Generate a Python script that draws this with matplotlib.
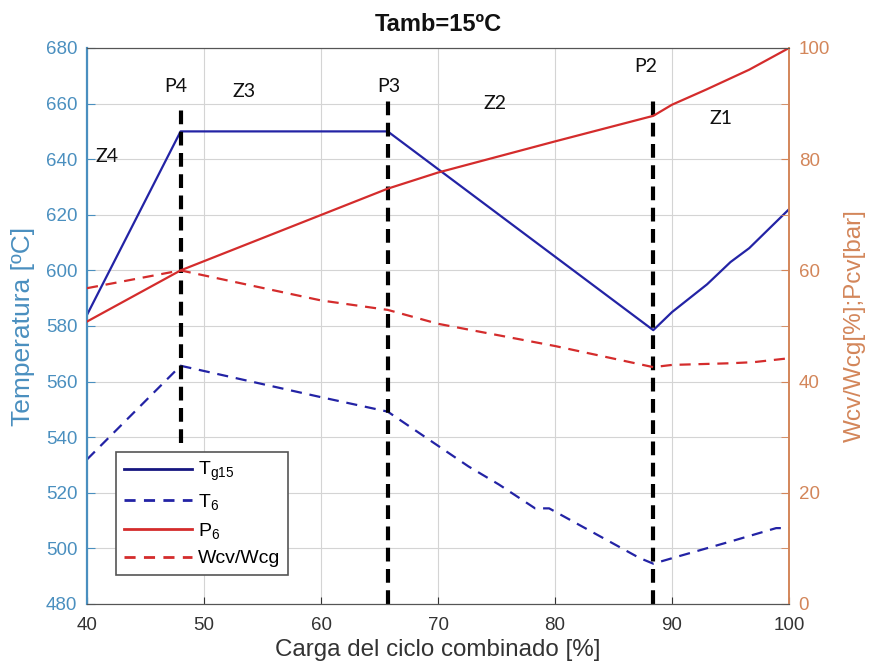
import matplotlib
matplotlib.use("Agg")
import matplotlib.pyplot as plt
from matplotlib.lines import Line2D

plt.rcParams['font.family'] = ['Liberation Sans', 'DejaVu Sans']
plt.rcParams['mathtext.fontset'] = 'custom'
plt.rcParams['mathtext.rm'] = 'Liberation Sans'
plt.rcParams['mathtext.it'] = 'Liberation Sans'

# load of the combined cycle [%]
x_tg = [40, 48, 65.7, 88.4, 90, 93, 95, 96.6, 100]
tg15 = [584, 650, 650, 578.5, 585, 595, 603, 608, 622]

x_t6 = [40, 48, 60, 65.7, 72.6, 75.2, 78.3, 79.5, 87.2, 88.4, 90.6, 95.1, 98.9, 100]
t6 = [532, 565.7, 554.4, 549.2, 529.5, 523, 514.4, 514.4, 496.6, 494.5, 497.2, 502.6, 507.3, 507.3]

x_p6 = [40, 48, 65.7, 70, 80, 88.4, 90, 92.9, 96.6, 100]
p6 = [50.8, 60, 74.7, 77.6, 83.2, 87.8, 89.8, 92.5, 96.1, 100]

x_w = [40, 48, 60, 65.7, 70, 80, 88.4, 90, 95, 97, 100]
wcv = [56.8, 60, 54.6, 52.9, 50.4, 46.4, 42.6, 43.0, 43.3, 43.5, 44.2]

# operating points and zones
p_names = ['P4', 'P3', 'P2']
p_x = [48, 65.7, 88.4]
p_lo = [538, 480, 480]
p_hi = [660, 661, 663]
p_lab_x = [47.6, 65.8, 87.75]
p_lab_y = [666, 666, 673.3]

z_names = ['Z4', 'Z3', 'Z2', 'Z1']
z_x = [41.7, 53.4, 74.9, 94.2]
z_y = [641, 664.2, 660.2, 654.8]

c_left = '#4a8fbf'
c_right = '#d3865a'
blue = '#2323a5'
red = '#d42c2c'

fig = plt.figure(figsize=(8.72, 6.68), dpi=100)
ax = fig.add_axes([87/872, 1-604/668, 702/872, 556/668])
ax2 = ax.twinx()

ax.plot(x_tg, tg15, color=blue, lw=1.6)
ax.plot(x_t6, t6, color=blue, lw=1.6, dashes=(5, 3.5))
for i in range(len(p_x)):
    ax.plot([p_x[i], p_x[i]], [p_lo[i], p_hi[i]], color='black', lw=3, dashes=(3.3, 1.8))
    ax.text(p_lab_x[i], p_lab_y[i], p_names[i], ha='center', va='center',
            fontsize=14, family=['Lato', 'DejaVu Sans'], color='#111111')
for i in range(len(z_x)):
    ax.text(z_x[i], z_y[i], z_names[i], ha='center', va='center',
            fontsize=14, family=['Lato', 'DejaVu Sans'], color='#111111')

ax2.plot(x_p6, p6, color=red, lw=1.6)
ax2.plot(x_w, wcv, color=red, lw=1.6, dashes=(5, 3.5))

ax.set_xlim(40, 100)
ax.set_ylim(480, 680)
ax2.set_ylim(0, 100)
ax.set_xticks(range(40, 101, 10))
ax.set_yticks(range(480, 681, 20))
ax2.set_yticks(range(0, 101, 20))
ax2.set_yticks(range(10, 100, 20), minor=True)

ax.grid(True, color='#d4d4d4', lw=0.8)
ax.set_axisbelow(True)

ax.tick_params(axis='x', direction='in', length=5, labelsize=13.5, colors='#333333', pad=9)
ax.tick_params(axis='y', direction='in', length=6, labelsize=13.5, colors=c_left, pad=7)
ax2.tick_params(axis='y', which='both', direction='in', length=6, labelsize=13.5,
                colors=c_right, pad=7)

for a in (ax, ax2):
    a.spines['top'].set_color('#555555')
    a.spines['bottom'].set_color('#555555')
ax.spines['left'].set_color(c_left)
ax.spines['left'].set_linewidth(1.6)
ax.spines['right'].set_visible(False)
ax2.spines['left'].set_visible(False)
ax2.spines['right'].set_color(c_right)
ax2.spines['right'].set_linewidth(1.4)

ax.set_xlabel('Carga del ciclo combinado [%]', fontsize=17.4, color='#333333', labelpad=4)
ax.set_ylabel('Temperatura [ºC]', fontsize=19, color=c_left, labelpad=8)
ax2.set_ylabel('Wcv/Wcg[%];Pcv[bar]', fontsize=17.5, color=c_right, labelpad=10)
ax.set_title('Tamb=15ºC', fontsize=17, fontweight='bold', pad=12, color='#111111')

handles = [
    Line2D([], [], color='#161680', lw=2),
    Line2D([], [], color=blue, lw=2, dashes=(4, 3)),
    Line2D([], [], color=red, lw=2),
    Line2D([], [], color=red, lw=2, dashes=(4, 3)),
]
labels = [r'$\mathregular{T_{g15}}$', r'$\mathregular{T_6}$', r'$\mathregular{P_6}$', 'Wcv/Wcg']
leg = ax2.legend(handles, labels, loc='lower left', bbox_to_anchor=(0.042, 0.052),
                 fontsize=14, fancybox=False, framealpha=1, edgecolor='#555555',
                 handlelength=3.5, handletextpad=0.3, labelspacing=0.45,
                 borderpad=0.4, borderaxespad=0)
leg.get_frame().set_linewidth(1.2)

fig.savefig('out.png', dpi=100)
